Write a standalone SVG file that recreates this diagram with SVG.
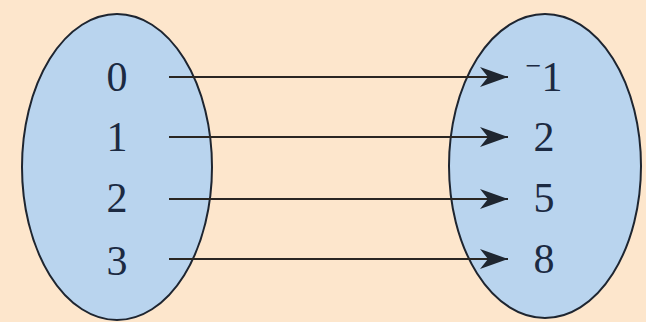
<svg xmlns="http://www.w3.org/2000/svg" width="646" height="322" viewBox="0 0 646 322">
<style>
.set{fill:#b9d4ee;stroke:#1e2530;stroke-width:2}
.num{font-family:'Liberation Serif','Times New Roman',Times,serif;font-size:42px;fill:#1c2a42;text-anchor:middle}
.arr{stroke:#2a2622;stroke-width:2.2;fill:none;marker-end:url(#ah)}
</style>
<defs>
<marker id="ah" markerUnits="userSpaceOnUse" markerWidth="30" markerHeight="24" refX="28" refY="12" orient="auto">
<path d="M0,2 L28,12 L0,22 L8,12 Z" fill="#1f2630"/>
</marker>
</defs>
<rect width="646" height="322" fill="#fde6cc"/>
<g id="domain">
<ellipse class="set" cx="117" cy="167" rx="95" ry="153"/>
<text class="num" x="117" y="91">0</text>
<text class="num" x="117" y="151">1</text>
<text class="num" x="117" y="212">2</text>
<text class="num" x="117" y="275">3</text>
</g>
<g id="range">
<ellipse class="set" cx="545" cy="166" rx="96" ry="152"/>
<text class="num" x="544" y="91"><tspan font-size="28" dy="-16">−</tspan><tspan dy="16">1</tspan></text>
<text class="num" x="544" y="151">2</text>
<text class="num" x="544" y="212">5</text>
<text class="num" x="544" y="273">8</text>
</g>
<g id="connectors">
<line class="arr" x1="169" y1="77" x2="508" y2="77"/>
<line class="arr" x1="169" y1="137" x2="508" y2="137"/>
<line class="arr" x1="169" y1="199" x2="508" y2="199"/>
<line class="arr" x1="169" y1="259" x2="508" y2="259"/>
</g>
</svg>
